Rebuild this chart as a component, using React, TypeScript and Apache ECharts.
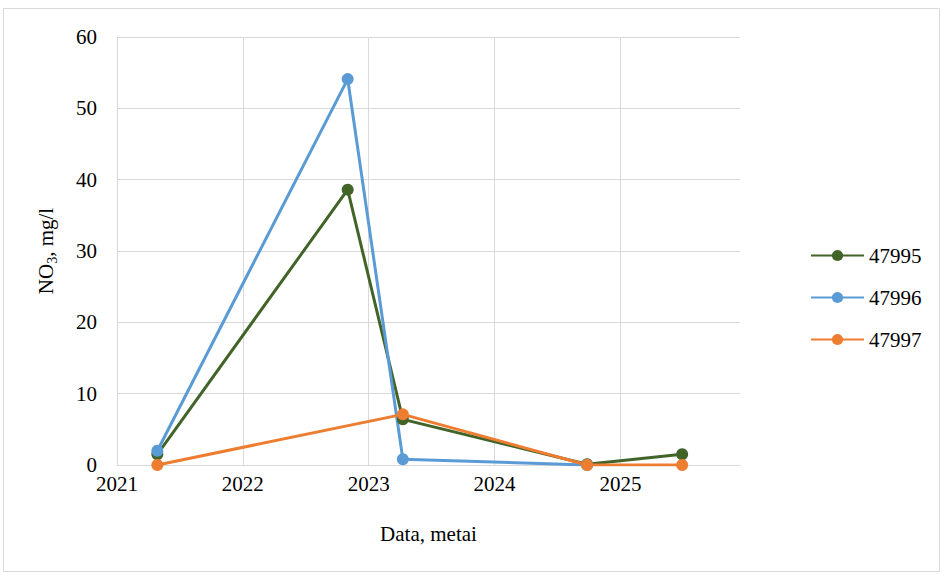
import React, { useEffect, useRef } from "react";
import * as echarts from "echarts";

const yearTicks = [2021, 2022, 2023, 2024, 2025];
const seriesNames = ["47995", "47996", "47997"];
const dates47995 = ["2021-04-28", "2022-11-01", "2023-04-10", "2024-09-26", "2025-06-29"];
const values47995 = [1.5, 38.6, 6.4, 0.1, 1.5];
const dates47996 = ["2021-04-28", "2022-11-01", "2023-04-10", "2024-09-26"];
const values47996 = [2.0, 54.1, 0.8, 0.0];
const dates47997 = ["2021-04-28", "2023-04-10", "2024-09-26", "2025-06-29"];
const values47997 = [0.0, 7.1, 0.0, 0.0];
const colors = ["#426428", "#5b9bd5", "#ed7d31"];

function decimalYear(s: string): number {
  const d = new Date(s + "T00:00:00Z");
  const y = d.getUTCFullYear();
  const start = Date.UTC(y, 0, 1);
  const end = Date.UTC(y + 1, 0, 1);
  return y + (d.getTime() - start) / (end - start);
}

function toPairs(dates: string[], vals: number[]) {
  return dates.map((d, i) => [decimalYear(d), vals[i]]);
}

const FONT = "Liberation Serif";

export default function App() {
  const ref = useRef<HTMLDivElement>(null);
  useEffect(() => {
    if (!ref.current) return;
    const chart = echarts.init(ref.current, null, { renderer: "svg" });
    const data = [
      toPairs(dates47995, values47995),
      toPairs(dates47996, values47996),
      toPairs(dates47997, values47997),
    ];
    chart.setOption({
      animation: false,
      backgroundColor: "#ffffff",
      textStyle: { fontFamily: FONT },
      graphic: [
        {
          type: "rect",
          shape: { x: 3.5, y: 8.5, width: 936, height: 563 },
          style: { fill: "none", stroke: "#d9d9d9", lineWidth: 1 },
          silent: true,
        },
      ],
      grid: { left: 117, right: 203, top: 37, bottom: 109, containLabel: false },
      legend: {
        orient: "vertical",
        left: 805,
        top: 240,
        itemWidth: 53,
        itemHeight: 14,
        itemGap: 21,
        data: seriesNames,
        textStyle: { fontFamily: FONT, fontSize: 21, color: "#000", lineHeight: 20 },
      },
      xAxis: {
        type: "value",
        min: 2021,
        max: 2025.95,
        interval: 1,
        name: "Data, metai",
        nameLocation: "middle",
        nameGap: 58,
        nameTextStyle: { fontFamily: FONT, fontSize: 21, color: "#000" },
        axisLine: { show: true, lineStyle: { color: "#d9d9d9", width: 1 } },
        axisTick: { show: false },
        axisLabel: {
          fontFamily: FONT,
          fontSize: 21,
          color: "#000",
          margin: 8,
          showMaxLabel: false,
          formatter: (v: number) => (yearTicks.includes(v) ? String(v) : ""),
        },
        splitLine: { show: true, showMaxLine: false, lineStyle: { color: "#d9d9d9", width: 1 } },
      },
      yAxis: {
        type: "value",
        min: 0,
        max: 60,
        interval: 10,
        name: "NO{sub|3}, mg/l",
        nameLocation: "middle",
        nameGap: 58,
        nameTextStyle: {
          fontFamily: FONT,
          fontSize: 21,
          color: "#000",
          lineHeight: 26,
          rich: {
            sub: { fontFamily: FONT, fontSize: 14, color: "#000", verticalAlign: "bottom", lineHeight: 26, padding: [10, 0, 0, 0] },
          },
        },
        axisLine: { show: false },
        axisTick: { show: false },
        axisLabel: { fontFamily: FONT, fontSize: 21, color: "#000", margin: 20 },
        splitLine: { show: true, lineStyle: { color: "#d9d9d9", width: 1 } },
      },
      series: seriesNames.map((n, i) => ({
        name: n,
        type: "line",
        data: data[i],
        symbol: "circle",
        symbolSize: 12,
        color: colors[i],
        lineStyle: { width: 3, color: colors[i] },
        itemStyle: { color: colors[i] },
      })),
    });
    return () => chart.dispose();
  }, []);
  return <div ref={ref} style={{ position: "fixed", left: 0, top: 0, width: 943, height: 574 }} />;
}
